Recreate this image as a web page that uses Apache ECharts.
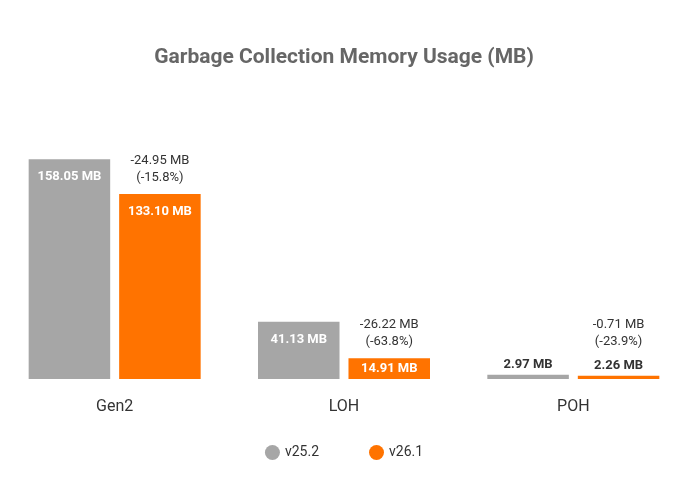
<!DOCTYPE html>
<html>
<head>
<meta charset="utf-8">
<script src="https://cdn.jsdelivr.net/npm/echarts@6/dist/echarts.min.js"></script>
<style>html,body{margin:0;padding:0;background:#fff}#c{width:688px;height:500px}</style>
</head>
<body>
<div id="c"></div>
<script>
var categories = ['Gen2', 'LOH', 'POH'];
var v252 = [158.05, 41.13, 2.97];
var v261 = [133.10, 14.91, 2.26];
var diffLabels = ['-24.95 MB\n(-15.8%)', '-26.22 MB\n(-63.8%)', '-0.71 MB\n(-23.9%)'];
var seriesNames = ['v25.2', 'v26.1'];

var GRAY = '#a6a6a6', ORANGE = '#ff7300', FONT = 'Roboto, sans-serif';

function valueItem(v) {
  var pos, color, dist;
  if (v < 10) { pos = 'top'; color = '#333'; dist = 4; }
  else if (v < 25) { pos = 'inside'; color = '#fff'; dist = 0; }
  else { pos = 'insideTop'; color = '#fff'; dist = 11; }
  return {
    value: v,
    label: { show: true, position: pos, distance: dist, color: color,
      fontFamily: FONT, fontWeight: 'bold', fontSize: 13,
      formatter: function (p) { return p.value.toFixed(2) + ' MB'; } }
  };
}

var chart = echarts.init(document.getElementById('c'));
chart.setOption({
  animation: false,
  title: { text: 'Garbage Collection Memory Usage (MB)', left: 'center', top: 42,
    textStyle: { fontFamily: FONT, fontWeight: 'bold', fontSize: 21, color: '#666' } },
  legend: { data: seriesNames, bottom: 35, left: 'center', icon: 'circle', itemWidth: 15, itemHeight: 15,
    itemGap: 50, textStyle: { fontFamily: FONT, fontSize: 14, color: '#333' } },
  grid: { left: 0, right: 0, top: 101, bottom: 121 },
  xAxis: [
    { type: 'category', data: categories, axisLine: { show: false }, axisTick: { show: false },
      axisLabel: { fontFamily: FONT, fontSize: 16, color: '#333', margin: 20 } },
    { type: 'category', data: categories, show: false }
  ],
  yAxis: { type: 'value', min: 0, max: 200, show: false, splitLine: { show: false } },
  series: [
    { name: seriesNames[0], type: 'bar', xAxisIndex: 0, itemStyle: { color: GRAY },
      data: v252.map(valueItem), barGap: '11%', barCategoryGap: '25%' },
    { name: seriesNames[1], type: 'bar', xAxisIndex: 0, itemStyle: { color: ORANGE },
      data: v261.map(valueItem), barGap: '11%', barCategoryGap: '25%' },
    { name: 'ph', type: 'bar', xAxisIndex: 1, itemStyle: { color: 'rgba(0,0,0,0)' },
      data: v252, barGap: '11%', barCategoryGap: '25%', silent: true },
    { name: 'diff', type: 'bar', xAxisIndex: 1, itemStyle: { color: 'rgba(0,0,0,0)' },
      barGap: '11%', barCategoryGap: '25%', silent: true,
      data: v261.map(function (v, i) {
        return { value: v, label: { show: true, position: 'top', distance: v < 10 ? 26 : 8,
          formatter: diffLabels[i], color: '#333', fontFamily: FONT, fontSize: 13, lineHeight: 17 } };
      }) }
  ]
});
</script>
</body>
</html>
